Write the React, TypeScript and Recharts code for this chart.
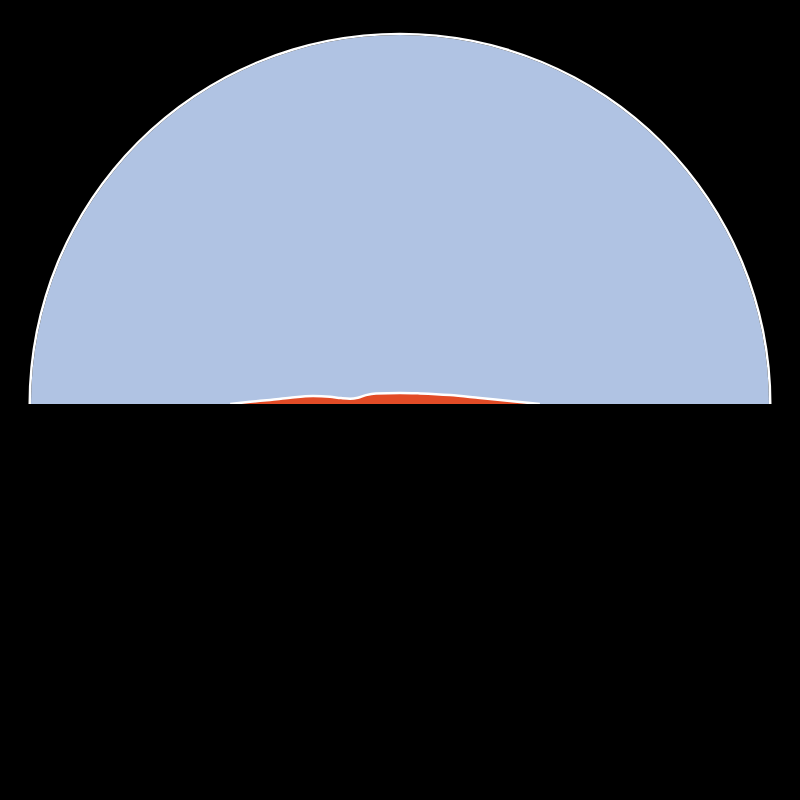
import { PieChart, Pie, Cell, AreaChart, Area, XAxis, YAxis } from 'recharts'

// the backdrop: one full half-disc
const disc = [{ name: 'total', value: 100 }]

// orange ridge, x in percent of radius from the centre, height in percent of radius
const ridgeX = [-45.9, -40.5, -35.1, -29.7, -23.5, -18.9, -15.9, -13.5, -11.4, -9.2, -6.5, 0, 5.4, 13.5, 21.6, 29.7, 37.8]
const ridgeY = [0, 0.6, 1.1, 1.7, 2.15, 1.95, 1.6, 1.45, 1.7, 2.4, 2.85, 3.0, 2.85, 2.4, 1.6, 0.8, 0]

const ridgeData = ridgeX.map((x, i) => ({ x, v: ridgeY[i] }))

export default function App() {
  return (
    <div style={{ position: 'absolute', left: 0, top: 0, width: 800, height: 800, background: '#000' }}>
      <PieChart
        width={800}
        height={800}
        margin={{ top: 0, right: 0, bottom: 0, left: 0 }}
        style={{ position: 'absolute', left: 0, top: 0 }}
      >
        <Pie
          data={disc}
          dataKey="value"
          cx={400}
          cy={404}
          startAngle={180}
          endAngle={0}
          innerRadius={0}
          outerRadius={369}
          stroke="none"
          isAnimationActive={false}
        >
          <Cell fill="#b0c3e3" />
        </Pie>
        <Pie
          data={disc}
          dataKey="value"
          cx={400}
          cy={404}
          startAngle={180}
          endAngle={0}
          innerRadius={369}
          outerRadius={371.5}
          stroke="none"
          isAnimationActive={false}
        >
          <Cell fill="#ffffff" />
        </Pie>
      </PieChart>
      <div style={{ position: 'absolute', left: 30, top: 34 }}>
        <AreaChart width={740} height={370} data={ridgeData} margin={{ top: 0, right: 0, bottom: 0, left: 0 }}>
          <XAxis dataKey="x" type="number" domain={[-100, 100]} hide />
          <YAxis type="number" domain={[0, 100]} hide />
          <Area
            type="monotone"
            dataKey="v"
            fill="#e24b26"
            fillOpacity={1}
            stroke="#ffffff"
            strokeWidth={2.5}
            isAnimationActive={false}
          />
        </AreaChart>
      </div>
    </div>
  )
}
